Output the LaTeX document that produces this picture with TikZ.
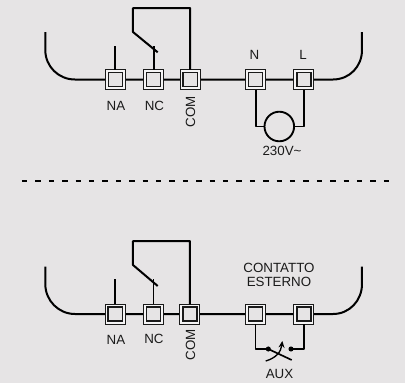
\documentclass[tikz,border=0pt]{standalone}
\usepackage{fontspec}
\setmainfont{Liberation Sans}
\usetikzlibrary{arrows.meta}
\definecolor{bgc}{HTML}{E6E4E5}
\definecolor{inkc}{HTML}{1A1A1A}
\tikzset{x=0.75pt,y=-0.75pt,
 wire/.style={line width=1.5pt,draw=black,line join=round},
 thinwire/.style={line width=1.25pt,draw=black,line join=round},
 term/.style={draw=inkc,line width=0.75pt,minimum size=15pt,inner sep=0,outer sep=0,fill=white!60!bgc},
 terminner/.style={draw=inkc,line width=0.95pt,minimum size=10.6pt,inner sep=0,outer sep=0,fill=bgc},
 lbl/.style={font=\fontsize{10pt}{12pt}\selectfont,text=inkc,inner sep=0},
 dotc/.style={circle,fill=black,minimum size=3.8pt,inner sep=0}}
\newcommand{\terminal}[2]{\node[term] (#1) at #2 {};\node[terminner] at #2 {};}
\begin{document}
\begin{tikzpicture}
\useasboundingbox[fill=bgc] (0,0) rectangle (405,383);
% top
\coordinate (tl) at (45.3,32);
\coordinate (tr) at (362,32);
\draw[wire] (tl) -- (45.3,50) .. controls (45.3,66.5) and (58.5,79.5) .. (75,79.5) -- (333,79.5) .. controls (349.5,79.5) and (362,66.5) .. (362,50) -- (tr);
\coordinate (tna) at (115.3,46);
\coordinate (tnc) at (153.7,46);
\coordinate (tpiv) at (133,32);
\coordinate (ttop) at (133,8);
\coordinate (tsw) at (157.7,52.3);
\terminal{na}{(115.3,79.5)}
\terminal{nc}{(153.7,79.5)}
\terminal{com}{(190.2,79.5)}
\terminal{n}{(255.7,79.5)}
\terminal{l}{(304,79.5)}
\draw[thinwire] (tna) -- (na.north);
\draw[thinwire] (tnc) -- (nc.north);
\draw[wire] (com.north) -- (com.north |- ttop) -- (ttop) -- (tpiv) -- (tsw);
\node[draw=black,line width=1.4pt,circle,minimum size=22.2pt,inner sep=0] (m) at (279.3,126.5) {};
\draw[thinwire] (n.south) |- (m.west);
\draw[thinwire] (l.south) |- (m.east);
\node[lbl] at (116,105.5) (lna) {NA};
\node[lbl] at (154.5,105.5) (lnc) {NC};
\node[lbl,rotate=90] at (190.5,112) (lcom) {COM};
\node[lbl] at (254.5,54.5) (ln) {N};
\node[lbl] at (303,54.5) (ll) {L};
\node[lbl] at (282,150.5) (lv) {230V\char"007E};
% dashes
\coordinate (d1) at (22,181);
\coordinate (d2) at (393,181);
\draw[line width=1.4pt,dash pattern=on 4pt off 6.05pt] (d1) -- (d2);
% bottom
\coordinate (bl) at (45.3,266.7);
\coordinate (br) at (362,266.7);
\draw[wire] (bl) -- (45.3,284) .. controls (45.3,300.5) and (58.5,314) .. (75,314) -- (333,314) .. controls (349.5,314) and (362,300.5) .. (362,284) -- (br);
\coordinate (bna) at (115.2,279);
\coordinate (bnc) at (153.5,279);
\coordinate (bpiv) at (133,265);
\coordinate (btop) at (133,241);
\coordinate (bsw) at (157.7,286);
\terminal{na2}{(115.2,314)}
\terminal{nc2}{(153.5,314)}
\terminal{com2}{(190,314)}
\terminal{a2}{(255.5,314)}
\terminal{b2}{(304,314)}
\draw[thinwire] (bna) -- (na2.north);
\draw[thinwire] (bnc) -- (nc2.north);
\draw[wire] (com2.north) -- (com2.north |- btop) -- (btop) -- (bpiv) -- (bsw);
\node[dotc] (d3) at (268.3,349) {};
\node[dotc] (d4) at (291,349) {};
\draw[thinwire] (a2.south) |- (d3.center);
\draw[thinwire] (b2.south) |- (d4.center);
\coordinate (sw2) at (291.7,360);
\draw[thinwire] (d3.center) -- (sw2);
\coordinate (ar1) at (265.7,361);
\coordinate (ar2) at (282.3,341);
\draw[line width=1pt,-{Stealth[length=5pt,width=4.5pt]}] (ar1) .. controls (276,358) and (281,352) .. (ar2);
\node[lbl] at (116,339.5) (lna2) {NA};
\node[lbl] at (154,338.5) (lnc2) {NC};
\node[lbl,rotate=90] at (190.5,345) (lcom2) {COM};
\node[lbl,align=center,font=\fontsize{10pt}{10.6pt}\selectfont] at (279,274.5) (lc) {CONTATTO\\ESTERNO};
\node[lbl] at (279.5,374) (laux) {AUX};
\end{tikzpicture}
\end{document}
